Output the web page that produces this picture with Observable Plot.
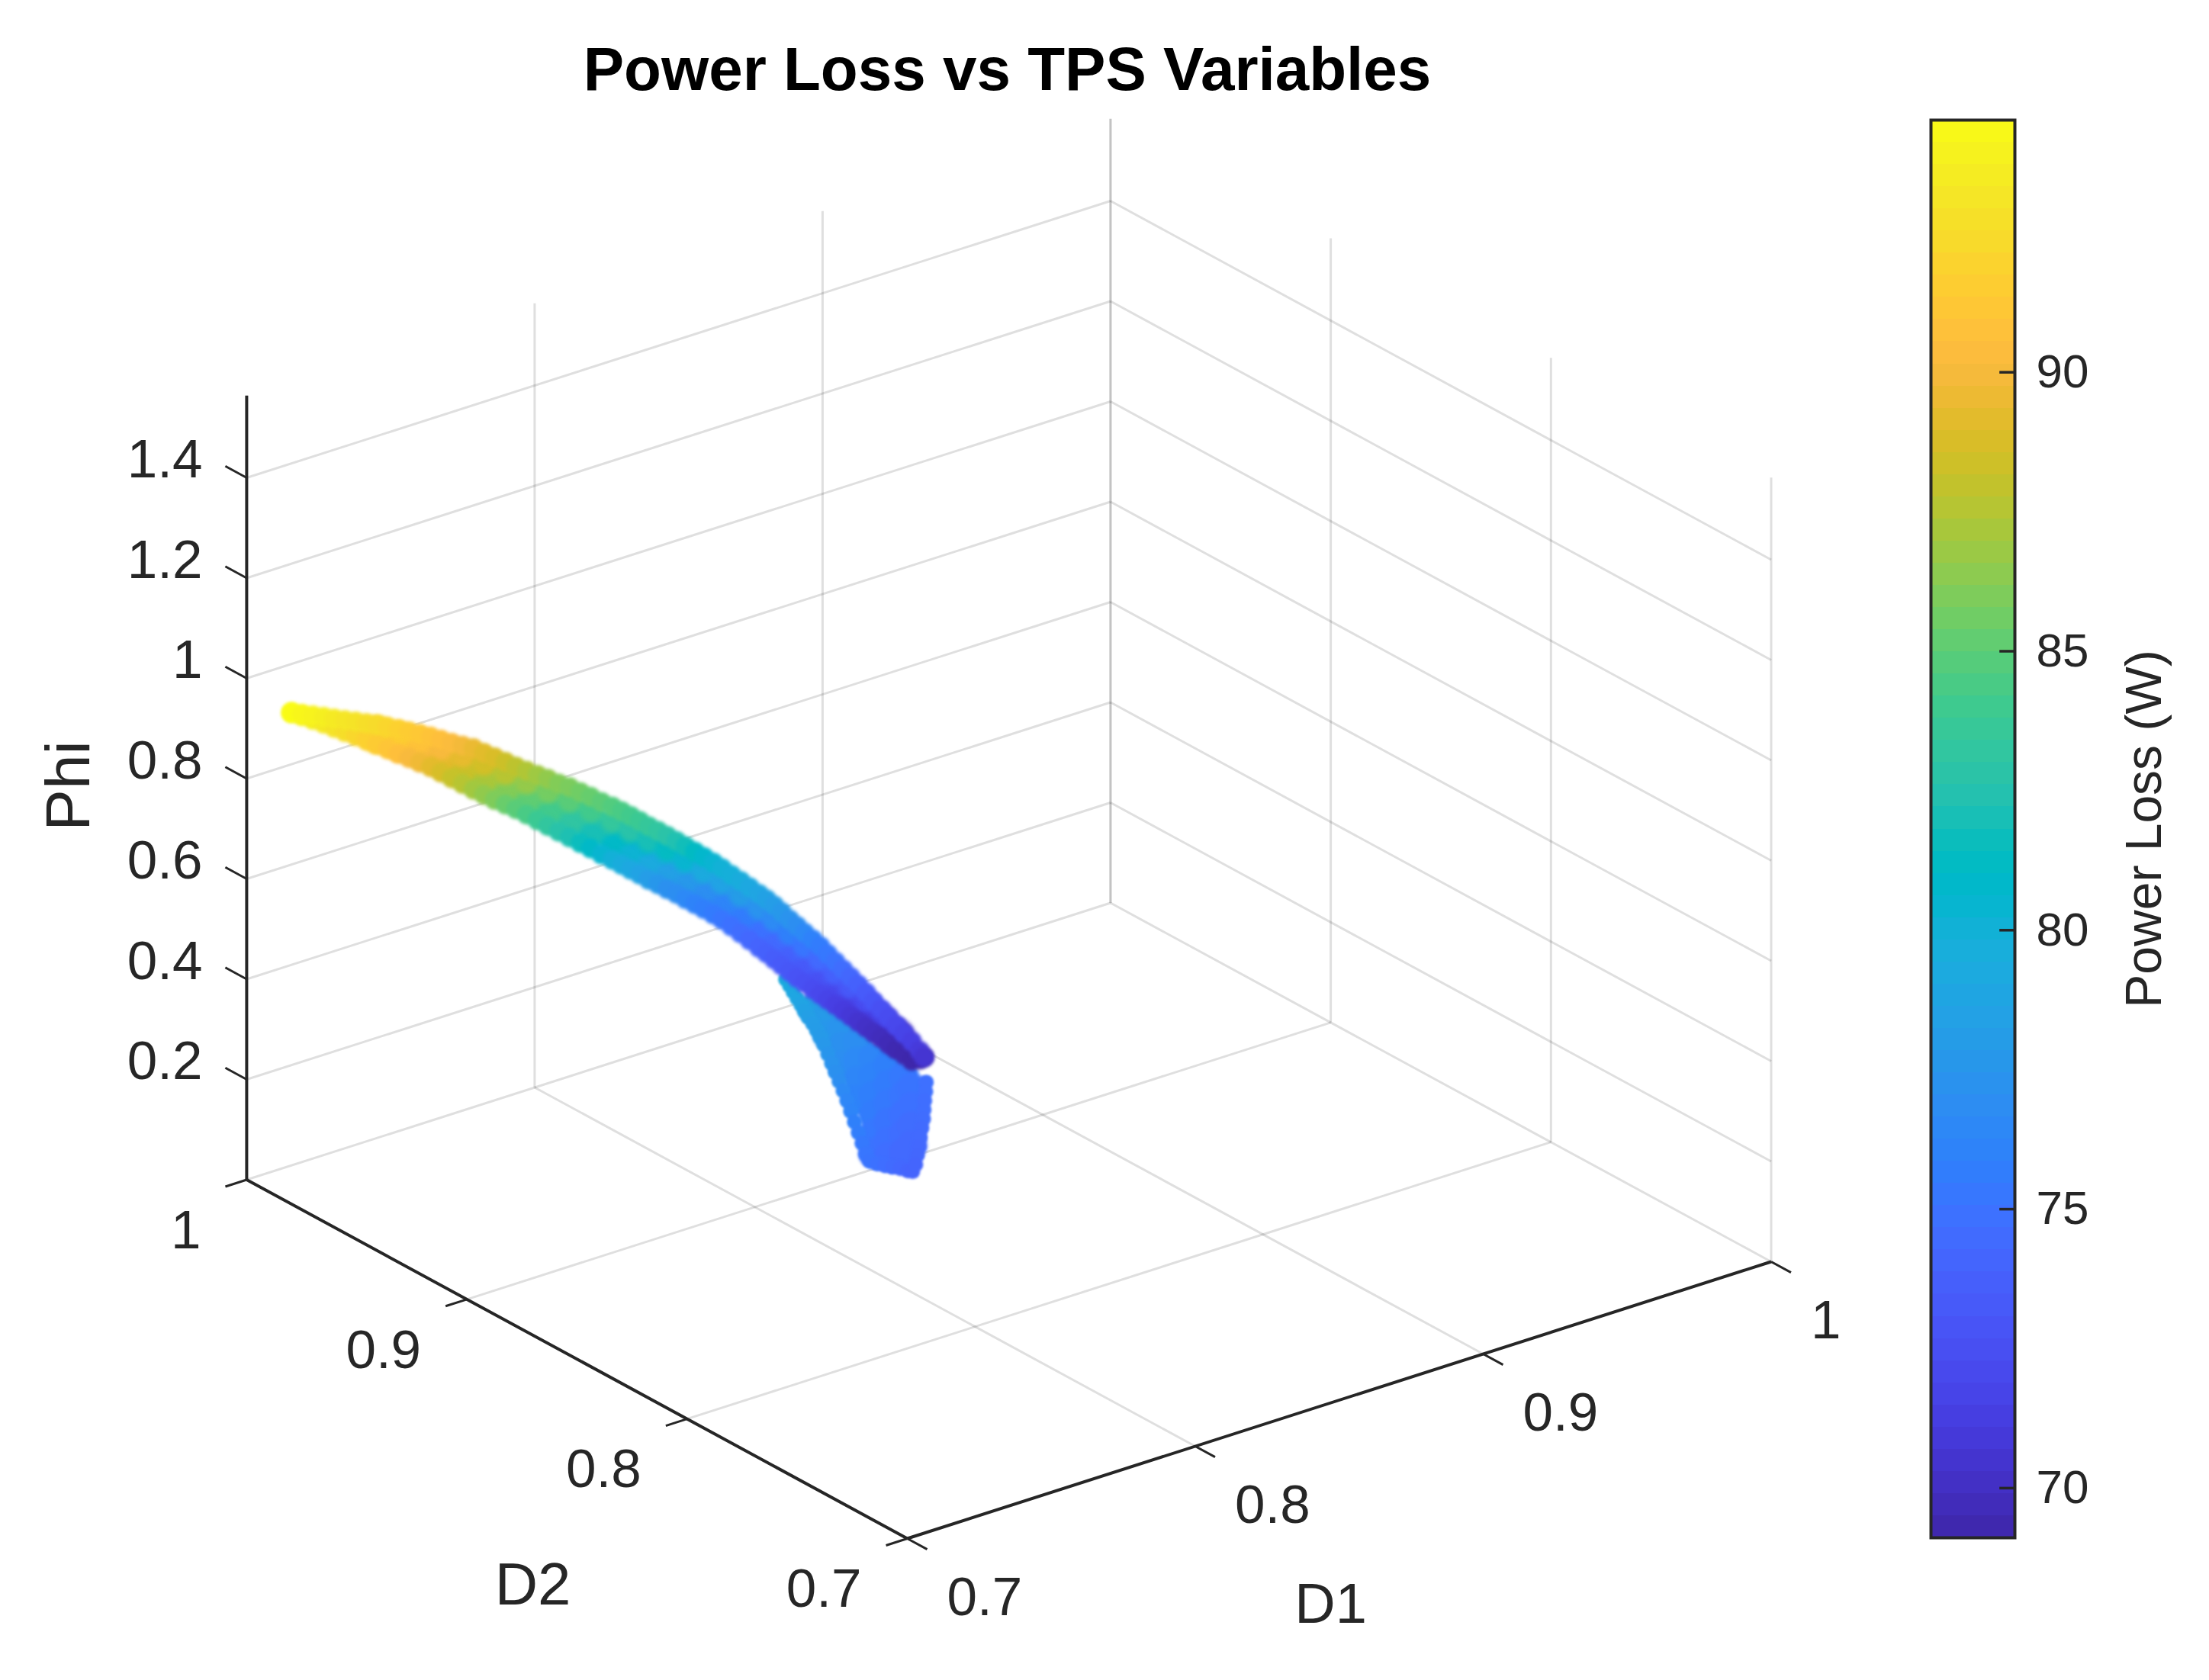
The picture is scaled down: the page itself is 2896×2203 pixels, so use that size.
<!DOCTYPE html>
<html><head><meta charset="utf-8">
<script src="https://cdn.jsdelivr.net/npm/d3@7"></script>
<script src="https://cdn.jsdelivr.net/npm/@observablehq/plot@0.6"></script>
<style>html,body{margin:0;padding:0;background:#fff}#fig{position:relative;width:2896px;height:2203px;overflow:hidden}#fig svg{position:absolute;top:0;max-width:none;filter:blur(0.7px)}</style>
</head><body><div id="fig"></div>
<script>
// ---- axis ticks
const d1Ticks=[0.7,0.8,0.9,1];
const d2Ticks=[0.7,0.8,0.9,1];
const phiTicks=[0.2,0.4,0.6,0.8,1,1.2,1.4];
const phiMax=1.564;
const lossTicks=[70,75,80,85,90];
const lossDomain=[69.11,94.52];
// ---- parula colormap
const parula=[[.2422,.1504,.6603],[.2504,.165,.7076],[.2578,.1818,.7511],[.2647,.1978,.7952],[.2706,.2147,.8364],[.2751,.2342,.871],[.2783,.2559,.8991],[.2803,.2782,.9221],[.2813,.3006,.9414],[.281,.3228,.9579],[.2795,.3447,.9717],[.276,.3667,.9829],[.2699,.3892,.9906],[.2602,.4123,.9952],[.244,.4358,.9988],[.2206,.4603,.9973],[.1963,.4847,.9892],[.1834,.5074,.9798],[.1786,.5289,.9682],[.1764,.5499,.952],[.1687,.5703,.9359],[.154,.5902,.9218],[.146,.6091,.9079],[.138,.6276,.8973],[.1248,.6459,.8883],[.1113,.6635,.8763],[.0952,.6798,.8598],[.0689,.6948,.8394],[.0297,.7082,.8163],[.0036,.7203,.7917],[.0067,.7312,.766],[.0433,.7411,.7394],[.0964,.75,.712],[.1408,.7584,.6842],[.1717,.767,.6554],[.1938,.7758,.6251],[.2161,.7843,.5923],[.247,.7918,.5567],[.2906,.7973,.5188],[.3406,.8008,.4789],[.3909,.8029,.4354],[.4456,.8024,.3909],[.5044,.7993,.348],[.5616,.7942,.3045],[.6174,.7876,.2612],[.672,.7793,.2227],[.7242,.7698,.191],[.7738,.7598,.1646],[.8203,.7498,.1535],[.8634,.7406,.1596],[.9035,.733,.1774],[.9393,.7288,.21],[.9728,.7298,.2394],[.9956,.7434,.2371],[.997,.7659,.2199],[.9952,.7893,.2028],[.9892,.8136,.1885],[.9786,.8386,.1766],[.9676,.8639,.1643],[.961,.889,.1537],[.9597,.9135,.1423],[.9628,.9373,.1265],[.9691,.9606,.1064],[.9769,.9839,.0805]];
// ---- main arc of samples: D1, D2 per station, Phi and Power Loss on upper and lower rim
const bandD1=[.7062,.7081,.7101,.7121,.7140,.7160,.7180,.7199,.7219,.7239,.7259,.7278,.7298,.7318,.7337,.7357,.7377,.7397,.7416,.7436,.7456,.7475,.7495,.7515,.7534,.7554,.7574,.7594,.7613,.7633,.7653,.7670,.7687,.7703,.7720,.7737,.7754,.7771,.7788,.7805,.7822,.7839,.7855,.7872,.7889,.7906,.7923,.7937,.7951,.7965,.7979,.7993,.8007,.8022,.8036,.8050,.8064,.8078,.8092,.8106,.8120,.8134,.8148,.8162,.8176,.8190,.8205,.8219,.8227];
const bandD2=[.9877,.9854,.9831,.9808,.9785,.9763,.9740,.9717,.9694,.9672,.9649,.9626,.9603,.9580,.9558,.9535,.9512,.9489,.9466,.9444,.9421,.9398,.9375,.9352,.9330,.9307,.9284,.9261,.9239,.9216,.9193,.9173,.9154,.9134,.9115,.9095,.9076,.9056,.9037,.9017,.8998,.8978,.8959,.8939,.8919,.8900,.8880,.8864,.8848,.8832,.8815,.8799,.8783,.8766,.8750,.8734,.8718,.8701,.8685,.8669,.8652,.8636,.8620,.8604,.8587,.8571,.8555,.8538,.8529];
const phiUpper=[.9503,.9490,.9478,.9466,.9454,.9440,.9428,.9416,.9404,.9376,.9349,.9322,.9294,.9256,.9212,.9168,.9130,.9095,.9022,.8949,.8876,.8803,.8734,.8671,.8613,.8535,.8482,.8400,.8327,.8237,.8164,.8091,.8008,.7928,.7836,.7760,.7675,.7591,.7497,.7407,.7314,.7220,.7121,.7007,.6900,.6788,.6674,.6579,.6471,.6347,.6216,.6099,.5976,.5859,.5732,.5588,.5449,.5310,.5171,.5031,.4887,.4722,.4584,.4429,.4290,.4135,.3989,.3819,.3697];
const phiLower=[.9487,.9445,.9387,.9329,.9264,.9197,.9132,.9074,.9008,.8928,.8855,.8789,.8716,.8643,.8554,.8458,.8362,.8266,.8186,.8097,.8024,.7951,.7863,.7766,.7670,.7574,.7478,.7383,.7294,.7191,.7103,.7019,.6935,.6859,.6768,.6694,.6610,.6534,.6443,.6359,.6277,.6186,.6094,.5979,.5857,.5731,.5600,.5500,.5392,.5282,.5174,.5065,.4972,.4862,.4770,.4675,.4582,.4488,.4388,.4286,.4193,.4099,.4006,.3904,.3804,.3710,.3601,.3644,.3697];
const lossUpper=[94.5,94.2,94.0,93.7,93.4,93.1,92.9,92.6,92.4,92.1,91.8,91.5,91.2,90.9,90.6,90.3,89.9,89.5,89.1,88.8,88.3,87.8,87.4,86.9,86.5,86.1,85.9,85.6,85.3,85.0,84.7,84.4,84.1,83.8,83.5,83.2,82.8,82.3,81.8,81.2,80.7,80.3,80.0,79.8,79.5,79.1,78.8,78.5,78.1,77.7,77.3,76.9,76.5,76.0,75.6,75.3,75.0,74.6,74.2,73.8,73.4,73.0,72.6,72.3,72.0,71.7,71.4,71.0,70.6];
const lossLower=[94.5,94.1,93.7,93.3,92.9,92.6,92.2,91.8,91.4,91.0,90.6,90.1,89.7,89.2,88.7,88.1,87.6,87.0,86.5,86.0,85.4,84.9,84.4,83.8,83.3,82.7,82.2,81.6,81.0,80.4,79.9,79.5,79.1,78.6,78.1,77.6,77.1,76.9,76.5,76.1,75.8,75.5,75.2,74.9,74.6,74.3,74.0,73.8,73.5,73.3,73.1,72.8,72.6,72.3,72.0,71.7,71.4,71.1,70.8,70.5,70.2,70.0,69.8,69.6,69.4,69.3,69.2,69.2,69.4];
// ---- core of the arc, with the two lanes between core and rims
const coreD1=[.7219,.7259,.7298,.7337,.7377,.7416,.7456,.7495,.7534,.7574,.7613,.7653,.7687,.7720,.7754,.7788,.7822,.7855,.7889,.7923,.7951,.7979,.8007,.8036,.8064,.8092,.8120,.8148,.8176];
const coreD2=[.9694,.9649,.9603,.9558,.9512,.9466,.9421,.9375,.9330,.9284,.9239,.9193,.9154,.9115,.9076,.9037,.8998,.8959,.8919,.8880,.8848,.8815,.8783,.8750,.8718,.8685,.8652,.8620,.8587];
const corePhi=[.9206,.9102,.9005,.8883,.8746,.8604,.8450,.8299,.8142,.7980,.7811,.7634,.7472,.7302,.7143,.6970,.6796,.6608,.6379,.6137,.5932,.5695,.5474,.5251,.5016,.4780,.4540,.4295,.4047];
const coreLoss=[91.9,91.2,90.5,89.7,88.8,87.9,86.9,85.9,84.9,84.0,83.0,82.2,81.4,80.6,79.8,79.0,78.0,77.3,76.6,75.9,75.3,74.6,74.0,73.4,72.8,72.1,71.2,70.4,69.8];
const laneUpPhi=[.9305,.9226,.9150,.9048,.8938,.8813,.8663,.8517,.8378,.8231,.8069,.7899,.7740,.7569,.7409,.7234,.7055,.6865,.6640,.6406,.6202,.5956,.5725,.5492,.5233,.4976,.4714,.4440,.4169];
const laneUpLoss=[92.1,91.5,90.8,90.1,89.3,88.5,87.6,86.6,85.7,84.9,84.1,83.4,82.7,82.0,81.3,80.4,79.3,78.6,78.0,77.3,76.7,75.9,75.2,74.4,73.8,73.2,72.3,71.6,71.0];
const laneLowPhi=[.9107,.8979,.8861,.8719,.8554,.8395,.8237,.8081,.7906,.7729,.7553,.7369,.7204,.7035,.6877,.6707,.6537,.6351,.6118,.5869,.5662,.5435,.5223,.5011,.4799,.4584,.4367,.4151,.3926];
const laneLowLoss=[91.6,90.9,90.1,89.2,88.2,87.2,86.1,85.1,84.1,83.1,82.0,81.0,80.2,79.3,78.4,77.7,76.9,76.2,75.6,74.9,74.4,73.8,73.3,72.7,72.1,71.4,70.7,70.1,69.6];
// ---- lower branch: rim samples
const tailD1=[.7972,.7979,.7986,.7993,.8000,.8007,.8014,.8022,.8029,.8036,.8043,.8050,.8057,.8064,.8071,.8078,.8085,.8092,.8099,.8106,.8113,.8120,.8127,.8141,.8155,.8169,.8183,.8197,.8206,.8231,.8230,.8228,.8227,.8226,.8223,.8220,.8217,.8214,.8212];
const tailD2=[.8823,.8815,.8807,.8799,.8791,.8783,.8775,.8766,.8758,.8750,.8742,.8734,.8726,.8718,.8710,.8701,.8693,.8685,.8677,.8669,.8661,.8652,.8644,.8628,.8612,.8595,.8579,.8563,.8553,.8524,.8525,.8527,.8529,.8530,.8534,.8537,.8540,.8543,.8547];
const tailPhi=[.5016,.4900,.4777,.4654,.4540,.4417,.4293,.4178,.4055,.3933,.3772,.3595,.3420,.3244,.3068,.2891,.2701,.2494,.2287,.2081,.1875,.1668,.1538,.1490,.1472,.1454,.1437,.1404,.1398,.3200,.3016,.2832,.2648,.2464,.2280,.2094,.1909,.1725,.1539];
const tailLoss=[79.4,79.2,79.0,78.9,78.7,78.5,78.3,78.1,78.0,77.9,77.7,77.5,77.3,77.1,76.9,76.6,76.4,76.2,75.9,75.7,75.4,75.2,75.1,74.9,74.7,74.5,74.3,74.1,74.0,74.8,74.8,74.7,74.7,74.6,74.5,74.4,74.3,74.2,74.1];
// ---- lower branch: inner samples
const innerD1=[.8022,.8050,.8050,.8078,.8078,.8078,.8106,.8106,.8106,.8106,.8134,.8134,.8134,.8134,.8134,.8134,.8162,.8162,.8162,.8162,.8162,.8162,.8190,.8190,.8190,.8190,.8190,.8205,.8205,.8205,.8205];
const innerD2=[.8766,.8734,.8734,.8701,.8701,.8701,.8669,.8669,.8669,.8669,.8636,.8636,.8636,.8636,.8636,.8636,.8604,.8604,.8604,.8604,.8604,.8604,.8571,.8571,.8571,.8571,.8571,.8555,.8555,.8555,.8555];
const innerPhi=[.4482,.4356,.3976,.4154,.3773,.3393,.3875,.3495,.3115,.2735,.3597,.3217,.2836,.2456,.2076,.1696,.3471,.3090,.2710,.2330,.1950,.1646,.3268,.2888,.2508,.2128,.1748,.3054,.2674,.2294,.1913];
const innerLoss=[78.3,77.9,77.6,77.4,77.1,76.9,76.9,76.6,76.3,76.1,76.3,76.1,75.8,75.6,75.3,75.0,75.9,75.6,75.4,75.1,74.9,74.7,75.4,75.2,74.9,74.7,74.4,75.1,74.9,74.6,74.4];

const rows=(a,b,c,l)=>a.map((d1,i)=>({d1,d2:b[i],phi:c[i],loss:l[i]}));
const upper=rows(bandD1,bandD2,phiUpper,lossUpper), lower=rows(bandD1,bandD2,phiLower,lossLower),
      core=rows(coreD1,coreD2,corePhi,coreLoss), laneUp=rows(coreD1,coreD2,laneUpPhi,laneUpLoss), laneLow=rows(coreD1,coreD2,laneLowPhi,laneLowLoss),
      tail=rows(tailD1,tailD2,tailPhi,tailLoss), inner=rows(innerD1,innerD2,innerPhi,innerLoss);

// ---- orthographic view of the 3-D box
const corner={x:1189,y:2017}, perD1={x:3775,y:-1210}, perD2={x:-2887,y:-1568.3}, perPhi=-657.5;
const px=(d1,d2)=>corner.x+(d1-.7)*perD1.x+(d2-.7)*perD2.x;
const py=(d1,d2,phi)=>corner.y+(d1-.7)*perD1.y+(d2-.7)*perD2.y+phi*perPhi;
const X=d=>px(d.d1,d.d2), Y=d=>py(d.d1,d.d2,d.phi);
const seg=(a,b)=>({x1:px(a[0],a[1]),y1:py(a[0],a[1],a[2]),x2:px(b[0],b[1]),y2:py(b[0],b[1],b[2])});
const grid=[
  ...d1Ticks.map(v=>seg([v,.7,0],[v,1,0])), ...d2Ticks.map(v=>seg([.7,v,0],[1,v,0])),
  ...phiTicks.map(v=>seg([.7,1,v],[1,1,v])), ...phiTicks.map(v=>seg([1,1,v],[1,.7,v])),
  ...d1Ticks.map(v=>seg([v,1,0],[v,1,phiMax])), ...d2Ticks.map(v=>seg([1,v,0],[1,v,phiMax]))
];
const axes=[seg([.7,.7,0],[.7,1,0]),seg([.7,.7,0],[1,.7,0]),seg([.7,1,0],[.7,1,phiMax])];
const ticks=[
  ...d2Ticks.map(v=>seg([.7,v,0],[.6926,v,0])), ...d1Ticks.map(v=>seg([v,.7,0],[v,.691,0])),
  ...phiTicks.map(v=>seg([.7,1,v],[.7,1.0097,v]))
];
const ink="#262626", font="Liberation Sans";
const lnk=(data,o)=>Plot.link(data,{x1:"x1",y1:"y1",x2:"x2",y2:"y2",...o});
const colorScale={type:"linear",domain:lossDomain,interpolate:d3.piecewise(d3.interpolateRgb,parula.map(c=>d3.rgb(c[0]*255,c[1]*255,c[2]*255)))};
const dots=(data,r,b)=>Plot.dot(data,{x:X,y:Y,fill:"loss",r,imageFilter:`blur(${b}px)`});
const lab={fill:ink,fontFamily:font,fontSize:71};

const main=Plot.plot({
  width:2470,height:2203,margin:0,
  x:{domain:[0,2470],range:[0,2470],axis:null},
  y:{domain:[0,2203],range:[0,2203],axis:null},
  color:colorScale,
  style:{background:"#fff"},
  marks:[
    lnk(grid,{stroke:ink,strokeOpacity:.15,strokeWidth:3}),
    lnk(axes,{stroke:ink,strokeWidth:4}),
    lnk(ticks,{stroke:ink,strokeWidth:3}),
    dots(inner,20,2), dots(tail,10,1.5), dots(core,24,3), dots(laneLow,16,3), dots(laneUp,16,3), dots(lower,13,2), dots(upper,13,2),
    Plot.text(phiTicks,{x:()=>px(.7,1),y:v=>py(.7,1,v),text:v=>String(v),dx:-58,dy:-23,textAnchor:"end",...lab}),
    Plot.text(d2Ticks,{x:v=>px(.7,v),y:v=>py(.7,v,0),text:v=>String(v),dx:-60,dy:67,textAnchor:"end",...lab}),
    Plot.text(d1Ticks,{x:v=>px(v,.7),y:v=>py(v,.7,0),text:v=>String(v),dx:52,dy:78,textAnchor:"start",...lab}),
    Plot.text(["Power Loss vs TPS Variables"],{frameAnchor:"top-left",dx:1320,dy:92,lineAnchor:"middle",textAnchor:"middle",fontWeight:"bold",fontSize:80,fill:"#000",fontFamily:font}),
    Plot.text(["D2"],{frameAnchor:"top-left",dx:698,dy:2079,lineAnchor:"middle",textAnchor:"middle",...lab,fontSize:78}),
    Plot.text(["D1"],{frameAnchor:"top-left",dx:1744,dy:2104,lineAnchor:"middle",textAnchor:"middle",...lab,fontSize:74}),
    Plot.text(["Phi"],{frameAnchor:"top-left",dx:90,dy:1030,rotate:-90,lineAnchor:"middle",textAnchor:"middle",...lab,fontSize:82})
  ]
});
const n=parula.length, step=(lossDomain[1]-lossDomain[0])/n;
const bins=parula.map((_,i)=>({lo:lossDomain[0]+i*step,hi:lossDomain[0]+(i+1)*step}));
const bar=Plot.plot({
  width:426,height:2203,marginLeft:61,marginRight:255,marginTop:157,marginBottom:187,
  x:{domain:[0,1],axis:null},
  y:{domain:lossDomain,axis:null},
  color:colorScale,
  style:{background:"transparent"},
  marks:[
    Plot.rectY(bins,{x1:0,x2:1,y1:"lo",y2:"hi",fill:d=>(d.lo+d.hi)/2,shapeRendering:"crispEdges"}),
    Plot.ruleY(lossTicks,{x1:.82,x2:1,stroke:ink,strokeWidth:3.5}),
    Plot.frame({stroke:ink,strokeWidth:4}),
    Plot.axisY({anchor:"right",ticks:lossTicks,tickSize:0,tickPadding:28,fontSize:62,color:ink,fontFamily:font,label:null,tickFormat:d=>String(d)}),
    Plot.text(["Power Loss (W)"],{frameAnchor:"right",dx:170,rotate:-90,lineAnchor:"middle",textAnchor:"middle",fontSize:66,fill:ink,fontFamily:font})
  ]
});
bar.style.left="2470px"; main.style.left="0";
document.getElementById("fig").append(main,bar);
</script></body></html>
